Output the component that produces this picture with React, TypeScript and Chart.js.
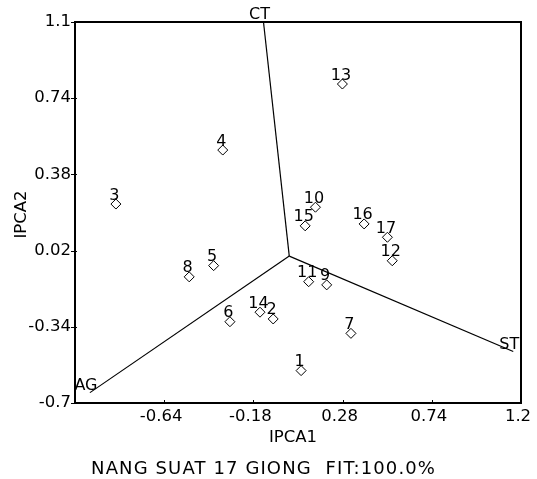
import { useEffect, useRef } from 'react';
import { Chart, registerables } from 'chart.js';

Chart.register(...registerables);

const genotypes = ['1', '2', '3', '4', '5', '6', '7', '8', '9', '10', '11', '12', '13', '14', '15', '16', '17'];
const ipca1 = [0.066, -0.078, -0.889, -0.338, -0.385, -0.301, 0.323, -0.511, 0.198, 0.140, 0.105, 0.536, 0.279, -0.146, 0.087, 0.391, 0.511];
const ipca2 = [-0.547, -0.303, 0.240, 0.495, -0.051, -0.316, -0.371, -0.104, -0.142, 0.225, -0.127, -0.028, 0.807, -0.271, 0.137, 0.146, 0.083];

const envNames = ['CT', 'ST', 'AG'];
const envIpca1 = [-0.128, 1.160, -1.023];
const envIpca2 = [1.1, -0.457, -0.651];
const originXY = [0.005, -0.006];

const xTicks = [-0.64, -0.18, 0.28, 0.74, 1.2];
const yTicks = [-0.7, -0.34, 0.02, 0.38, 0.74, 1.1];
const xRange = [-1.1, 1.2];
const yRange = [-0.7, 1.1];

const xTitle = 'IPCA1';
const yTitle = 'IPCA2';
const caption = 'NANG SUAT 17 GIONG  FIT:100.0%';

const FONT = '"DejaVu Sans", Verdana, sans-serif';

const biplotPlugin = {
  id: 'biplotDecor',
  afterDraw(chart: any) {
    const ctx = chart.ctx as CanvasRenderingContext2D;
    const { left, right, top, bottom } = chart.chartArea;
    const xs = chart.scales.x;
    const ys = chart.scales.y;
    ctx.save();
    ctx.fillStyle = '#000';
    ctx.strokeStyle = '#000';

    // frame
    ctx.lineWidth = 2;
    ctx.strokeRect(left, top, right - left, bottom - top);

    // tick marks
    ctx.lineWidth = 1;
    ctx.beginPath();
    yTicks.forEach((v) => {
      const y = Math.round(ys.getPixelForValue(v)) + 0.5;
      ctx.moveTo(left - 4, y);
      ctx.lineTo(left + 2, y);
    });
    xTicks.forEach((v) => {
      const x = Math.round(xs.getPixelForValue(v)) + 0.5;
      ctx.moveTo(x, bottom - 3);
      ctx.lineTo(x, bottom + 1);
    });
    ctx.stroke();

    // tick labels
    ctx.font = `16.5px ${FONT}`;
    (ctx as any).letterSpacing = '0px';
    ctx.textBaseline = 'middle';
    ctx.textAlign = 'right';
    yTicks.forEach((v) => {
      ctx.fillText(String(v), left - 4, ys.getPixelForValue(v));
    });
    ctx.textAlign = 'center';
    xTicks.forEach((v) => {
      ctx.fillText(String(v), xs.getPixelForValue(v) - 3, bottom + 14);
    });

    // axis titles
    ctx.font = `16.5px ${FONT}`;
    ctx.fillText(xTitle, (left + right) / 2 - 5, bottom + 35);
    ctx.save();
    ctx.translate(22, (top + bottom) / 2 + 2);
    ctx.rotate(-Math.PI / 2);
    ctx.fillText(yTitle, 0, 0);
    ctx.restore();

    // caption, stretched to the reference width
    ctx.font = `18px ${FONT}`;
    const w0 = ctx.measureText(caption).width;
    const ls = Math.max(0, (345 - w0) / caption.length);
    (ctx as any).letterSpacing = `${ls}px`;
    ctx.fillText(caption, 263 + ls / 2, 469);
    (ctx as any).letterSpacing = '0px';

    // genotype labels
    ctx.font = `16px ${FONT}`;
    ctx.textBaseline = 'alphabetic';
    ctx.textAlign = 'center';
    genotypes.forEach((g, i) => {
      const px = xs.getPixelForValue(ipca1[i]);
      const py = ys.getPixelForValue(ipca2[i]);
      ctx.fillText(g, px - 1.5, py - 4.5);
    });

    // environment labels
    envNames.forEach((n, i) => {
      const px = xs.getPixelForValue(envIpca1[i]);
      const py = ys.getPixelForValue(envIpca2[i]);
      ctx.fillText(n, px - 4, py - 3);
    });

    ctx.restore();
  },
};

export default function App() {
  const ref = useRef<HTMLCanvasElement | null>(null);

  useEffect(() => {
    if (!ref.current) return;
    const envDatasets = envNames.map((n, i) => ({
      type: 'line' as const,
      label: n,
      data: [
        { x: originXY[0], y: originXY[1] },
        { x: envIpca1[i], y: envIpca2[i] },
      ],
      borderColor: '#000',
      borderWidth: 1.2,
      pointRadius: 0,
      fill: false,
      tension: 0,
      clip: false as any,
    }));
    const chart = new Chart(ref.current, {
      type: 'scatter',
      data: {
        datasets: [
          {
            label: 'Genotypes',
            data: genotypes.map((_, i) => ({ x: ipca1[i], y: ipca2[i] })),
            pointStyle: 'rectRot',
            pointRadius: 5,
            pointBorderWidth: 1,
            pointBorderColor: '#000',
            pointBackgroundColor: 'rgba(255,255,255,0)',
            clip: false as any,
          },
          ...(envDatasets as any),
        ],
      },
      options: {
        responsive: false,
        animation: false,
        devicePixelRatio: 1,
        layout: { padding: { left: 75, top: 22, right: 16, bottom: 76 } },
        plugins: {
          legend: { display: false },
          tooltip: { enabled: false },
          title: { display: false },
        },
        scales: {
          x: { type: 'linear', min: xRange[0], max: xRange[1], display: false },
          y: { type: 'linear', min: yRange[0], max: yRange[1], display: false },
        },
      },
      plugins: [biplotPlugin],
    });
    return () => chart.destroy();
  }, []);

  return (
    <div style={{ position: 'fixed', left: 0, top: 0, width: 537, height: 479, background: '#fff' }}>
      <canvas ref={ref} width={537} height={479} style={{ display: 'block', width: 537, height: 479 }} />
    </div>
  );
}
